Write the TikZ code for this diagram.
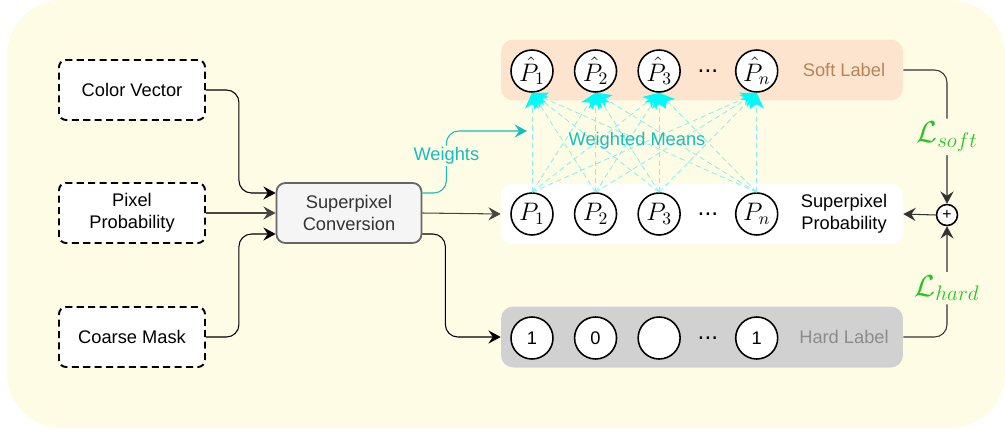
\documentclass[tikz,border=0pt]{standalone}
\usepackage{amsmath,amssymb}
\usepackage{fontspec}
\setmainfont{Liberation Sans}
\usepackage{tikz}
\usetikzlibrary{arrows.meta,positioning,calc}
\usepackage{xcolor}
\definecolor{bgyellow}{RGB}{254,252,228}
\definecolor{softfill}{RGB}{253,228,206}
\definecolor{hardfill}{RGB}{209,209,209}
\definecolor{softtext}{RGB}{183,132,88}
\definecolor{hardtext}{RGB}{140,140,140}
\definecolor{weightteal}{RGB}{22,190,190}
\definecolor{meanscyan}{RGB}{130,240,240}
\definecolor{tipcyan}{RGB}{0,250,250}
\definecolor{lossgreen}{RGB}{30,200,30}
\definecolor{convgray}{RGB}{102,102,102}
\definecolor{linkgray}{RGB}{70,70,70}
\newcommand{\boxfont}{\fontsize{10.4}{12.5}\selectfont}

\begin{document}
\begin{tikzpicture}[x=0.02cm, y=-0.02cm, node distance=0.4cm,
    >={Stealth[length=7pt, width=7.5pt, inset=2.5pt]}]
    \tikzstyle{source} = [draw, line width=1.1pt, dash pattern=on 4pt off 2.5pt, fill=white, rounded corners=4pt, minimum width=2.92cm, minimum height=1.2cm, align=center, font=\boxfont]
    \tikzstyle{convbox} = [draw=convgray, line width=1pt, fill=gray!8, text=black!80, rounded corners=5pt, minimum width=2.9cm, minimum height=1.2cm, align=center, font=\boxfont]
    \tikzstyle{band} = [rounded corners=7pt, minimum width=8.04cm, minimum height=1.22cm]
    \tikzstyle{pnode} = [draw, circle, line width=0.9pt, fill=white, minimum size=0.84cm, inner sep=-2pt, font=\fontsize{14}{16}\selectfont]
    \tikzstyle{hnode} = [pnode, font=\boxfont]
    \tikzstyle{dots} = [font=\fontsize{14}{16}\selectfont]
    \tikzstyle{conn} = [line width=0.6pt, rounded corners=0.25cm, ->]
    \tikzstyle{meanline} = [meanscyan, line width=0.45pt, dash pattern=on 3pt off 2pt, -{Stealth[length=9pt, width=8pt, inset=2.5pt, tipcyan]}]
    \tikzstyle{loss} = [fill=bgyellow, text=lossgreen, inner sep=2pt, font=\fontsize{17}{19}\selectfont]

    % canvas
    \useasboundingbox (0,0) rectangle (1005,430);
    \fill[bgyellow, rounded corners=1.1cm] (7,0) rectangle (1005,428);

    % inputs and conversion
    \node[source] (colvec) at (132,90) {Color Vector};
    \node[source] (pixprob) at (132,213) {Pixel\\Probability};
    \node[source] (coarse) at (132,337) {Coarse Mask};
    \node[convbox] (conv) at (349,213) {Superpixel\\Conversion};

    % label rows
    \node[band, fill=softfill] (soft) at (702,70) {};
    \node[band, fill=white] (spprob) at (702,214) {};
    \node[band, fill=hardfill] (hard) at (702,337) {};

    \node[pnode] (q1) at (532,71) {$\hat{P}_1$};
    \node[pnode, right=of q1] (q2) {$\hat{P}_2$};
    \node[pnode, right=of q2] (q3) {$\hat{P}_3$};
    \node[pnode, right=1.08cm of q3] (qn) {$\hat{P}_n$};
    \node[dots] (qdots) at ($(q3)!0.5!(qn)$) {...};
    \node[font=\boxfont, text=softtext] (softlbl) at (844,70) {Soft Label};

    \node[pnode] (p1) at (532,214) {$P_1$};
    \node[pnode, right=of p1] (p2) {$P_2$};
    \node[pnode, right=of p2] (p3) {$P_3$};
    \node[pnode, right=1.08cm of p3] (pn) {$P_n$};
    \node[dots] (pdots) at ($(p3)!0.5!(pn)$) {...};
    \node[font=\boxfont, align=center] (problbl) at (844,214) {Superpixel\\Probability};

    \node[hnode] (h1) at (532,338) {1};
    \node[hnode, right=of h1] (h2) {0};
    \node[hnode, right=of h2] (h3) {};
    \node[hnode, right=1.08cm of h3] (hn) {1};
    \node[dots] (hdots) at ($(h3)!0.5!(hn)$) {...};
    \node[font=\boxfont, text=hardtext] (hardlbl) at (844,337) {Hard Label};

    % weighted means between the rows
    \foreach \i in {1,2,3,n}
        \foreach \j in {1,2,3,n}
            \draw[meanline] (p\i.north) -- (q\j.south);
    \node[font=\boxfont, text=weightteal] (wmeans) at (637,141) {Weighted Means};

    % links into and out of the conversion
    \coordinate (convin1) at ($(conv.west)+(0,-20)$);
    \coordinate (convin3) at ($(conv.west)+(0,21)$);
    \draw[conn] (colvec.east) -- ++(33,0) |- (convin1);
    \draw[conn, linkgray] (pixprob.east) -- (conv.west);
    \draw[conn] (coarse.east) -- ++(33,0) |- (convin3);

    \coordinate (wtip) at (527,131);
    \draw[conn, weightteal] ($(conv.east)+(0,-20)$) -- ++(24,0) |- node[pos=0.3, fill=bgyellow, inner sep=1pt, font=\boxfont] {Weights} (wtip);
    \draw[conn, linkgray] (conv.east) -- (spprob.west);
    \draw[conn] ($(conv.east)+(0,21)$) -- ++(23,0) |- (hard.west);

    % losses
    \node[draw, circle, line width=0.9pt, fill=white, minimum size=0.42cm, inner sep=0pt, font=\small] (sum) at (947,215) {+};
    \draw[conn, black!80] (soft.east) -| node[loss, pos=0.75] {$\mathcal{L}_{soft}$} (sum.north);
    \draw[conn, black!80] (hard.east) -| node[loss, pos=0.72] {$\mathcal{L}_{hard}$} (sum.south);
    \draw[conn, black!80] (sum.west) -- (spprob.east);
\end{tikzpicture}
\end{document}
